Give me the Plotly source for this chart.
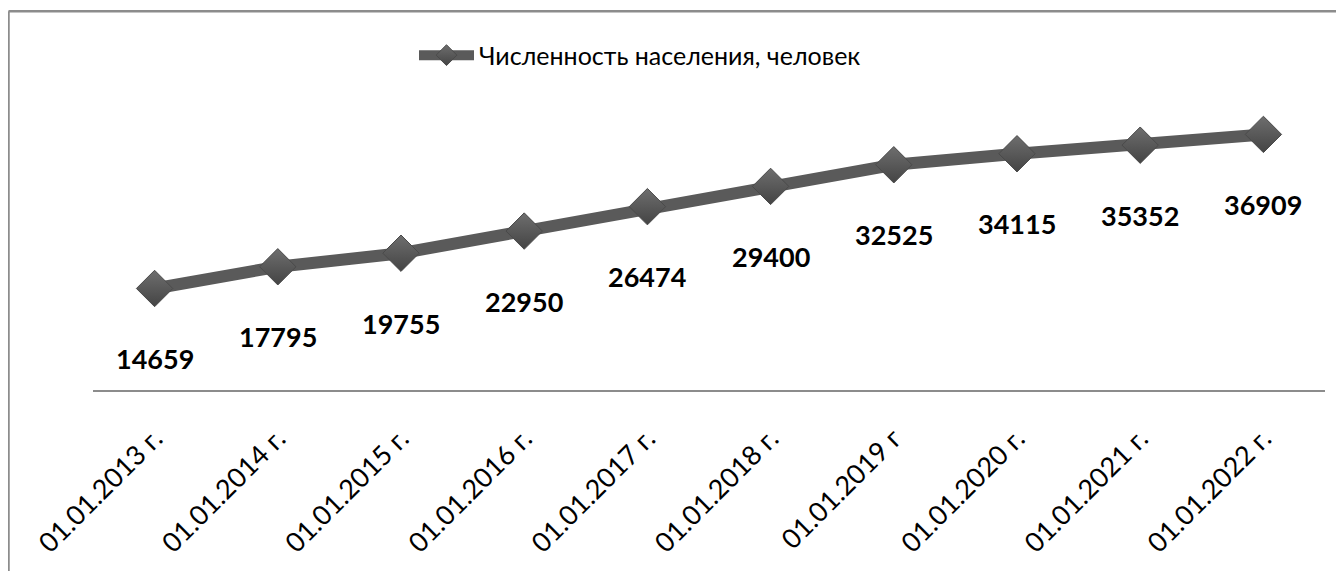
import plotly.graph_objects as go

categories = ["01.01.2013 г.", "01.01.2014 г.", "01.01.2015 г.", "01.01.2016 г.",
              "01.01.2017 г.", "01.01.2018 г.", "01.01.2019 г", "01.01.2020 г.",
              "01.01.2021 г.", "01.01.2022 г."]
population = [14659, 17795, 19755, 22950, 26474, 29400, 32525, 34115, 35352, 36909]
series_name = "Численность населения, человек"

# page body has an 8px default margin; build the figure in page coordinates minus that
OFF = 8
W, H = 1344 - OFF, 571 - OFF
L, R, T, B = 93 - OFF, 19, 113 - OFF, 179
pw, ph = W - L - R, H - T - B

def px_to_paper_x(px):
    return (px - OFF - L) / pw

def px_to_paper_y(py):
    return (H - B - (py - OFF)) / ph

fig = go.Figure()
fig.add_trace(go.Scatter(
    x=categories, y=population, mode="lines+markers", name=series_name,
    line=dict(color="#5a5a5a", width=12),
    marker=dict(symbol="diamond", size=28, color="#6e6e6e",
                gradient=dict(type="vertical", color="#444444"),
                line=dict(color="#4a4a4a", width=1)),
    hoverinfo="skip",
))

for c, v in zip(categories, population):
    fig.add_annotation(x=c, y=v, text=f"<b>{v}</b>", showarrow=False,
                       yshift=-70, font=dict(family="Lato", size=27, color="#000000"))

border = "#8c8c8c"
bx, by = px_to_paper_x(8.5), px_to_paper_y(10.5)
fig.add_shape(type="line", xref="paper", yref="paper", x0=bx, x1=bx,
              y0=by, y1=px_to_paper_y(600), line=dict(color=border, width=2.5))
fig.add_shape(type="line", xref="paper", yref="paper", x0=bx, x1=px_to_paper_x(1360),
              y0=by, y1=by, line=dict(color=border, width=2.5))

fig.update_layout(
    width=W, height=H,
    margin=dict(l=L, r=R, t=T, b=B),
    paper_bgcolor="white", plot_bgcolor="white",
    font=dict(family="Lato", color="#000000"),
    showlegend=True,
    legend=dict(x=px_to_paper_x(414), y=px_to_paper_y(55), xanchor="left", yanchor="middle",
                orientation="h", font=dict(family="Lato", size=25, color="#000000"),
                itemwidth=55, bgcolor="rgba(0,0,0,0)"),
    xaxis=dict(type="category", range=[-0.5, len(categories) - 0.5],
               showgrid=False, zeroline=False, showline=True, linecolor="#8c8c8c",
               linewidth=2, ticks="", tickangle=-45, ticklabelstandoff=20,
               tickfont=dict(family="Lato", size=27, color="#000000"), fixedrange=True),
    yaxis=dict(range=[0, 40000], visible=False, fixedrange=True),
)

fig.write_html("out.html")
